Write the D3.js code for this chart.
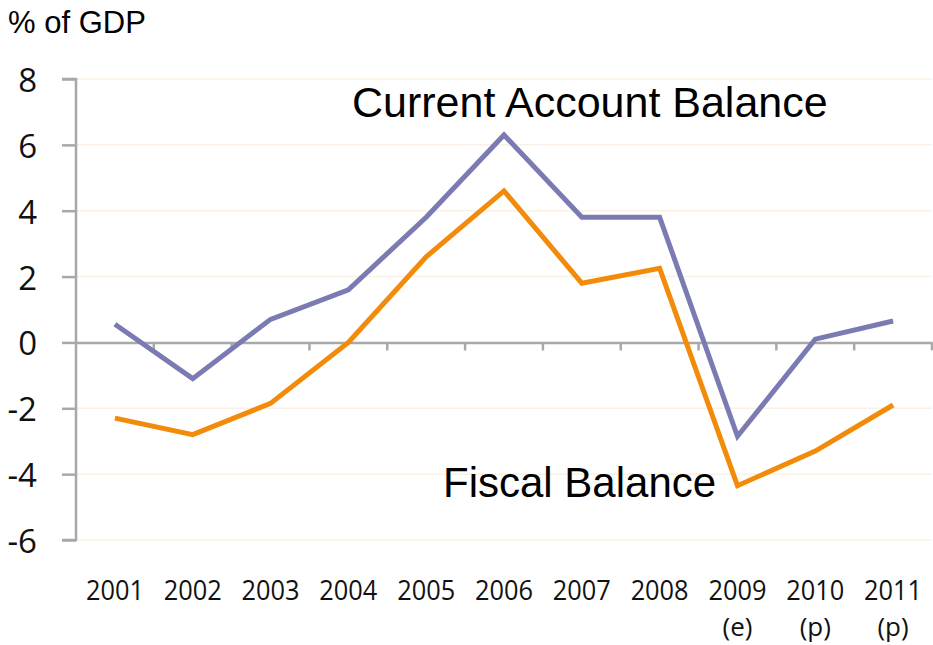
<!DOCTYPE html>
<html><head><meta charset="utf-8">
<script src="https://cdn.jsdelivr.net/npm/d3@7"></script>
<style>
html,body{margin:0;padding:0;background:#fff;}
svg{display:block;}
</style></head>
<body>
<svg id="chart" width="933" height="645"></svg>
<script>
const years = ["2001","2002","2003","2004","2005","2006","2007","2008","2009","2010","2011"];
const yearNotes = ["","","","","","","","","(e)","(p)","(p)"];
const currentAccount = [0.55, -1.1, 0.7, 1.6, 3.8, 6.3, 3.8, 3.8, -2.85, 0.1, 0.65];
const fiscalBalance = [-2.3, -2.8, -1.85, 0.0, 2.6, 4.6, 1.8, 2.25, -4.35, -3.3, -1.9];
const yTicks = [8, 6, 4, 2, 0, -2, -4, -6];

const svg = d3.select("#chart");
const plotLeft = 76, plotRight = 932, plotTop = 79, plotBottom = 540;

const x = d3.scaleBand().domain(years).range([plotLeft, plotRight]).paddingInner(0).paddingOuter(0);
const y = d3.scaleLinear().domain([-6, 8]).range([plotBottom, plotTop]);

// gridlines
svg.append("g").selectAll("line").data(yTicks.filter(d => d !== 0)).join("line")
  .attr("x1", plotLeft).attr("x2", plotRight)
  .attr("y1", d => y(d)).attr("y2", d => y(d))
  .attr("stroke", "#fbf0e4").attr("stroke-width", 1.5);

// y axis
const yAxis = svg.append("g").attr("transform", `translate(${plotLeft},0)`)
  .call(d3.axisLeft(y).tickValues(yTicks).tickSize(14).tickPadding(25).tickFormat(d => String(d)));
yAxis.select(".domain").attr("stroke", "#a8a8a8").attr("stroke-width", 2.5)
  .attr("d", `M-14,${plotTop}H0V${plotBottom}H-14`);
yAxis.selectAll(".tick line").attr("stroke", "#a8a8a8").attr("stroke-width", 2.5);
yAxis.selectAll(".tick text").attr("fill", "#111")
  .style("font-family", "'Open Sans', sans-serif").style("font-size", "33px")
  .attr("dy", "0.38em");

// x axis at zero
const xAxis = svg.append("g").attr("transform", `translate(0,${y(0)})`)
  .call(d3.axisBottom(x).tickSize(0).tickFormat(""));
xAxis.select(".domain").attr("stroke", "#a8a8a8").attr("stroke-width", 2.5);
xAxis.selectAll(".tick").remove();
svg.append("g").selectAll("line").data(years).join("line")
  .attr("x1", d => x(d) + x.bandwidth()).attr("x2", d => x(d) + x.bandwidth())
  .attr("y1", y(0)).attr("y2", y(0) + 8)
  .attr("stroke", "#a8a8a8").attr("stroke-width", 2.5);

// x labels
const xl = svg.append("g");
xl.selectAll("text.yr").data(years).join("text").attr("class", "yr")
  .attr("x", d => x(d) + x.bandwidth() / 2).attr("y", 600)
  .attr("text-anchor", "middle")
  .attr("textLength", 58).attr("lengthAdjust", "spacingAndGlyphs")
  .style("font-family", "'Open Sans', sans-serif").style("font-size", "28px").attr("fill", "#111")
  .text(d => d);
xl.selectAll("text.note").data(years.filter((d, i) => yearNotes[i])).join("text").attr("class", "note")
  .attr("x", d => x(d) + x.bandwidth() / 2).attr("y", 636)
  .attr("text-anchor", "middle")
  .style("font-family", "'Open Sans', sans-serif").style("font-size", "26px").attr("fill", "#111")
  .text(d => yearNotes[years.indexOf(d)]);

// lines
const line = d3.line().x((d, i) => x(years[i]) + x.bandwidth() / 2).y(d => y(d));
svg.append("path").datum(currentAccount).attr("d", line)
  .attr("fill", "none").attr("stroke", "#7b7bb3").attr("stroke-width", 5).attr("stroke-linejoin", "miter");
svg.append("path").datum(fiscalBalance).attr("d", line)
  .attr("fill", "none").attr("stroke", "#f28a0a").attr("stroke-width", 5).attr("stroke-linejoin", "miter");

// labels
svg.append("text").attr("x", 8).attr("y", 33)
  .style("font-family", "'Liberation Sans', Arial, sans-serif").style("font-size", "31px").attr("fill", "#000")
  .text("% of GDP");
svg.append("text").attr("x", 352).attr("y", 117)
  .style("font-family", "'Liberation Sans', Arial, sans-serif").style("font-size", "43px").attr("fill", "#000")
  .text("Current Account Balance");
svg.append("text").attr("x", 443).attr("y", 497)
  .style("font-family", "'Liberation Sans', Arial, sans-serif").style("font-size", "42px").attr("fill", "#000")
  .text("Fiscal Balance");
</script>
</body></html>
